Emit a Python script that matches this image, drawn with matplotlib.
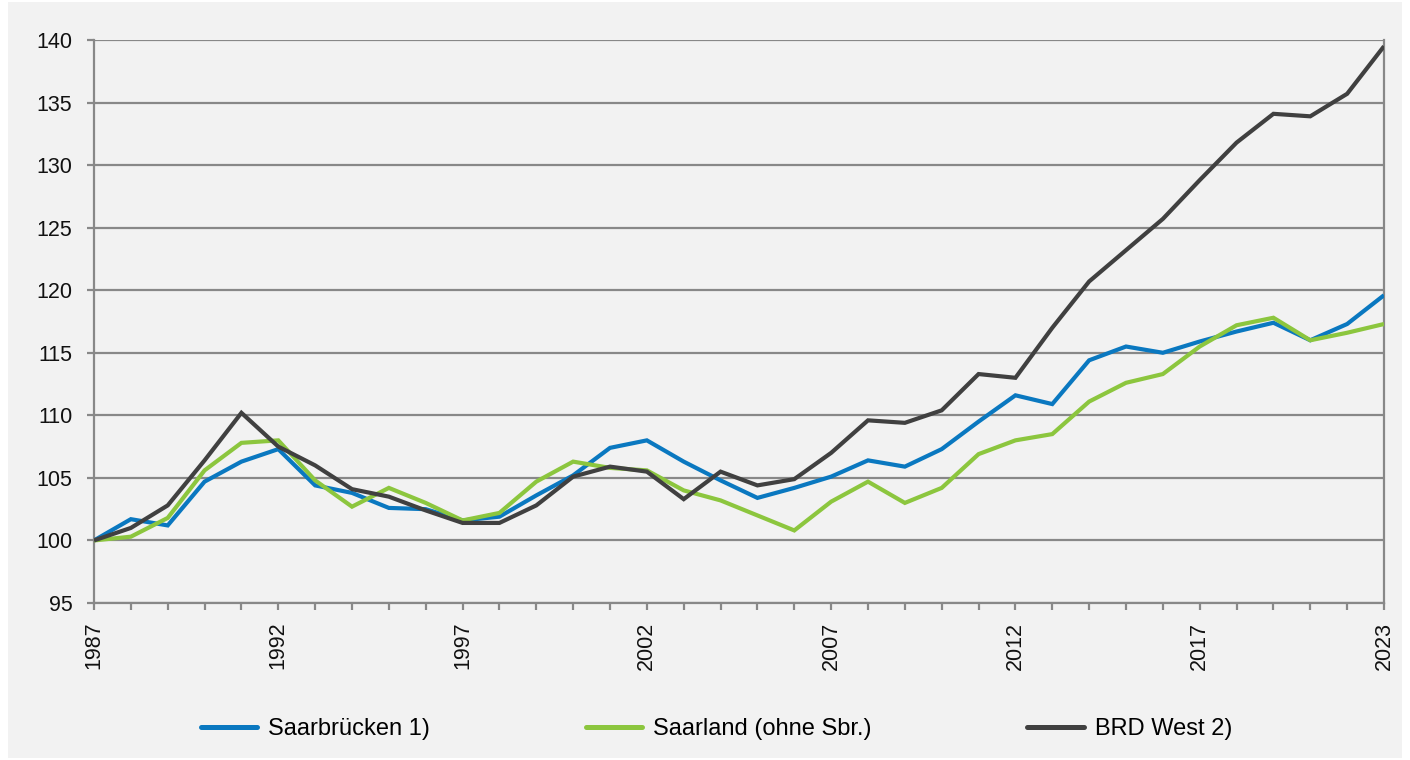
import matplotlib
matplotlib.use("Agg")
import matplotlib.pyplot as plt
from matplotlib.patches import Rectangle

plt.rcParams['font.family'] = ['Liberation Sans', 'DejaVu Sans']

# ---- data ----
tick_labels = ['1987', '1992', '1997', '2002', '2007', '2012', '2017', '2023']
n_points = 36

saarbruecken = [100.0, 101.7, 101.2, 104.7, 106.3, 107.3, 104.4, 103.8, 102.6, 102.5,
                101.6, 101.9, 103.6, 105.2, 107.4, 108.0, 106.3, 104.8, 103.4, 104.2,
                105.1, 106.4, 105.9, 107.3, 109.5, 111.6, 110.9, 114.4, 115.5, 115.0,
                115.9, 116.7, 117.4, 116.0, 117.3, 119.6]
saarland = [100.0, 100.3, 101.8, 105.6, 107.8, 108.0, 104.8, 102.7, 104.2, 103.0,
            101.6, 102.2, 104.7, 106.3, 105.8, 105.6, 104.0, 103.2, 102.0, 100.8,
            103.1, 104.7, 103.0, 104.2, 106.9, 108.0, 108.5, 111.1, 112.6, 113.3,
            115.5, 117.2, 117.8, 116.0, 116.6, 117.3]
brd_west = [100.0, 101.0, 102.8, 106.4, 110.2, 107.5, 106.0, 104.1, 103.5, 102.4,
            101.4, 101.4, 102.8, 105.1, 105.9, 105.5, 103.3, 105.5, 104.4, 104.9,
            107.0, 109.6, 109.4, 110.4, 113.3, 113.0, 117.0, 120.7, 123.2, 125.7,
            128.8, 131.8, 134.1, 133.9, 135.7, 139.5]

series_names = ['Saarbrücken 1)', 'Saarland (ohne Sbr.)', 'BRD West 2)']
series_colors = ['#0A78C0', '#8CC63E', '#404040']

y_ticks = [95, 100, 105, 110, 115, 120, 125, 130, 135, 140]

# ---- figure ----
W, H = 1410, 760
fig = plt.figure(figsize=(W / 100, H / 100), dpi=100, facecolor='white')
bg = '#F2F2F2'
fig.patches.append(Rectangle((8 / W, 2 / H), (W - 16) / W, (H - 4) / H,
                             transform=fig.transFigure, facecolor=bg,
                             edgecolor='none', zorder=-10))

ax = fig.add_axes([94 / W, 1 - 603 / H, (1384 - 94) / W, (603 - 40) / H])
ax.set_facecolor(bg)

x = list(range(n_points))
for vals, name, col in zip([saarbruecken, saarland, brd_west], series_names, series_colors):
    ax.plot(x, vals, color=col, lw=3.0, label=name, solid_joinstyle='miter',
            solid_capstyle='butt', zorder=3)

ax.set_xlim(0, n_points - 1)
ax.set_ylim(95, 140)

grid_col = '#888888'
ax.set_yticks(y_ticks)
ax.set_yticklabels([str(v) for v in y_ticks])
ax.yaxis.grid(True, color=grid_col, lw=1.6, zorder=1)
ax.set_axisbelow(True)

labels = [''] * n_points
step_positions = list(range(0, n_points, 5))
for lab, pos in zip(tick_labels, step_positions + [n_points - 1]):
    labels[pos] = lab
ax.set_xticks(x)
ax.set_xticklabels(labels, rotation=90, ha='center', va='top')

for side in ['left', 'bottom', 'right']:
    ax.spines[side].set_color(grid_col)
    ax.spines[side].set_linewidth(1.6)
ax.spines['top'].set_visible(False)

ax.tick_params(axis='y', direction='out', length=5, width=1.6, color=grid_col,
               pad=10.5, labelsize=15.5, labelcolor='#111111')
ax.tick_params(axis='x', direction='out', length=5, width=1.6, color=grid_col,
               pad=8.5, labelsize=15.5, labelcolor='#111111')

leg = fig.legend(loc='center', bbox_to_anchor=(0.508, 1 - 729 / H), ncol=3,
                 frameon=False, fontsize=17, handlelength=2.4, handletextpad=0.45,
                 columnspacing=6.6)
for line in leg.get_lines():
    line.set_linewidth(3.6)
    line.set_solid_capstyle('round')

fig.savefig('out.png', dpi=100, facecolor=fig.get_facecolor())
